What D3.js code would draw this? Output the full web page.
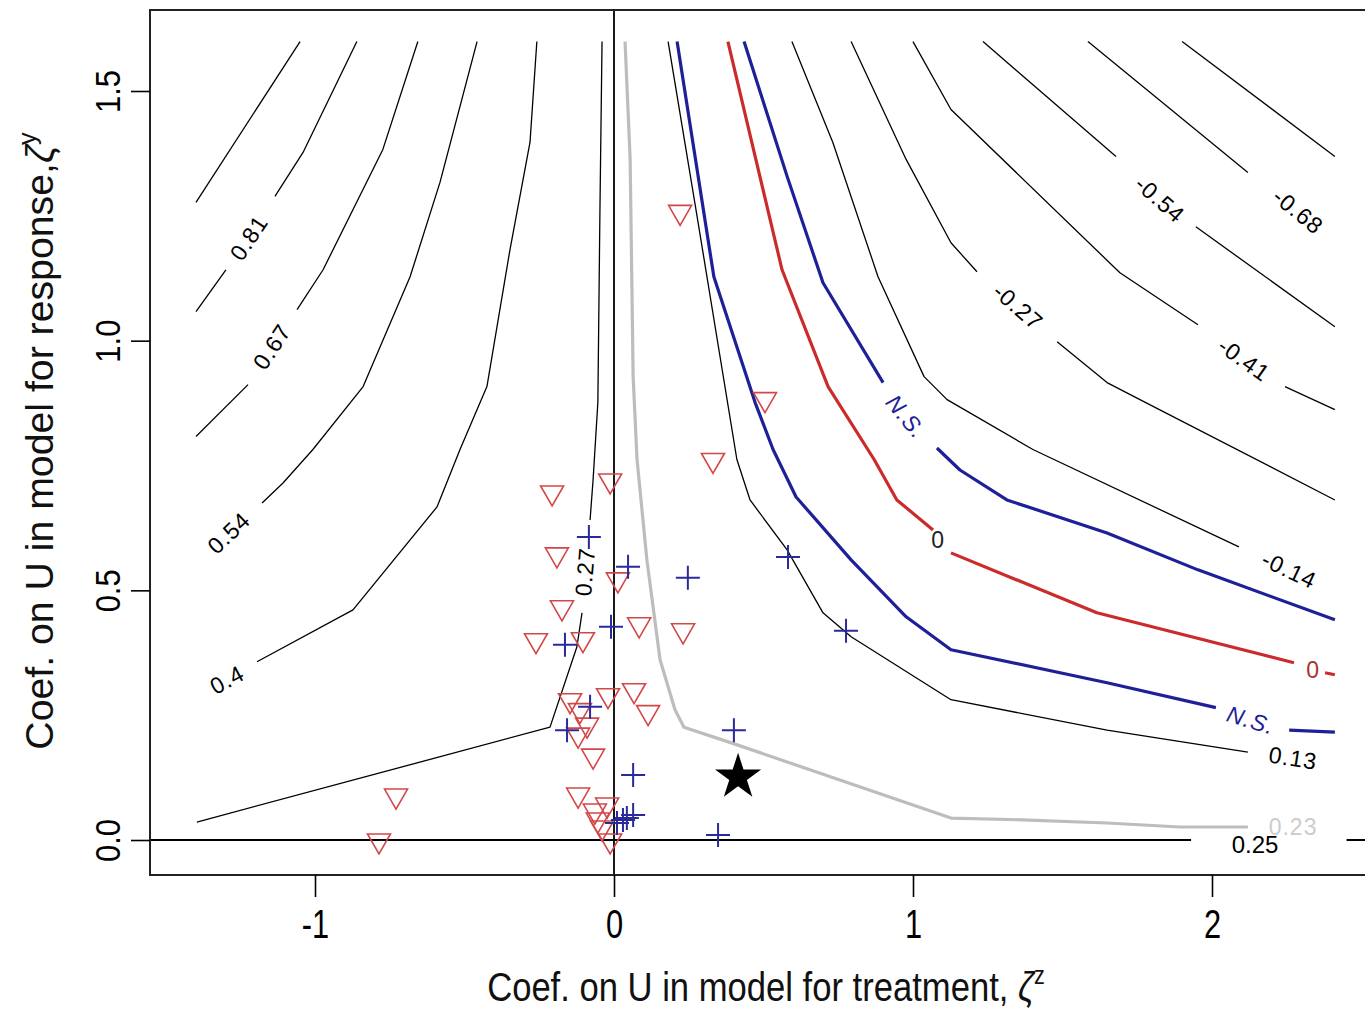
<!DOCTYPE html>
<html>
<head>
<meta charset="utf-8">
<script src="https://cdnjs.cloudflare.com/ajax/libs/d3/7.8.5/d3.min.js"></script>
<style>
  body { margin: 0; background: #fff; }
  svg { display: block; font-family: "Liberation Sans", Arial, sans-serif; }
</style>
</head>
<body>
<div class="contourdiv"></div>
<script>

// ---- data -------------------------------------------------------------
var xTicks = [-1, 0, 1, 2];
var yTicks = [0, 0.5, 1.0, 1.5];

// black contours: pieces between labels, label i sits after piece i
var blackContours = [
  {label: "", pieces: [[[-1.050, 1.599], [-1.398, 1.277]]], labelAt: []},
  {label: "0.81", pieces: [[[-0.860, 1.599], [-1.040, 1.377], [-1.134, 1.289]],
                           [[-1.298, 1.142], [-1.398, 1.058]]], labelAt: [[-1.221, 1.206]]},
  {label: "0.67", pieces: [[[-0.656, 1.599], [-0.773, 1.383], [-0.973, 1.142], [-1.060, 1.062]],
                           [[-1.224, 0.912], [-1.398, 0.808]]], labelAt: [[-1.144, 0.988]]},
  {label: "0.54", pieces: [[[-0.458, 1.599], [-0.582, 1.317], [-0.682, 1.128], [-0.839, 0.908],
                            [-1.007, 0.782], [-1.107, 0.715], [-1.177, 0.675]]], labelAt: [[-1.288, 0.615]]},
  {label: "0.4", pieces: [[[-0.258, 1.599], [-0.281, 1.397], [-0.348, 1.182], [-0.425, 0.908],
                           [-0.515, 0.782], [-0.592, 0.667], [-0.873, 0.461], [-1.194, 0.357]]], labelAt: [[-1.294, 0.321]]},
  {label: "0.27", pieces: [[[-0.040, 1.599], [-0.047, 1.263], [-0.054, 0.876], [-0.070, 0.721], [-0.080, 0.641]],
                           [[-0.107, 0.455], [-0.124, 0.387], [-0.214, 0.226], [-1.395, 0.036]]], labelAt: [[-0.097, 0.537]]},
  {label: "0.13", pieces: [[[0.181, 1.599], [0.274, 1.263], [0.411, 0.762], [0.455, 0.681], [0.579, 0.581],
                            [0.699, 0.455], [0.793, 0.407], [1.127, 0.281], [1.649, 0.220], [2.120, 0.176]]], labelAt: [[2.271, 0.164]]},
  {label: "-0.14", pieces: [[[0.595, 1.599], [0.732, 1.397], [0.883, 1.128], [1.037, 0.928], [1.114, 0.882],
                             [1.401, 0.782], [2.090, 0.587]]], labelAt: [[2.258, 0.541]]},
  {label: "-0.27", pieces: [[[0.793, 1.599], [0.977, 1.363], [1.127, 1.196], [1.214, 1.138]],
                            [[1.482, 0.998], [1.649, 0.916], [1.759, 0.882], [2.411, 0.681]]], labelAt: [[1.351, 1.068]]},
  {label: "-0.41", pieces: [[[1.000, 1.599], [1.127, 1.463], [1.692, 1.136], [1.953, 1.032]],
                            [[2.244, 0.908], [2.411, 0.862]]], labelAt: [[2.107, 0.962]]},
  {label: "-0.54", pieces: [[[1.234, 1.599], [1.679, 1.369]],
                            [[1.946, 1.228], [2.411, 1.028]]], labelAt: [[1.826, 1.283]]},
  {label: "-0.68", pieces: [[[1.585, 1.599], [2.120, 1.337]]], labelAt: [[2.288, 1.259]]},
  {label: "", pieces: [[[1.900, 1.599], [2.411, 1.369]]], labelAt: []}
];

var grayContour = {label: "0.23", pieces: [[[0.037, 1.599], [0.054, 1.363], [0.064, 0.928], [0.077, 0.762],
  [0.110, 0.561], [0.154, 0.361], [0.204, 0.261], [0.234, 0.226], [0.395, 0.194], [1.127, 0.044],
  [1.388, 0.040], [1.649, 0.034], [1.893, 0.026], [2.120, 0.026]]], labelAt: [[2.271, 0.026]]};

var redContour = {label: "0", pieces: [
  [[0.381, 1.599], [0.562, 1.142], [0.716, 0.908], [0.870, 0.762], [0.946, 0.681], [1.067, 0.621]],
  [[1.127, 0.575], [1.615, 0.455], [2.274, 0.355]],
  [[2.378, 0.335], [2.411, 0.331]]], labelAt: [[1.084, 0.601], [2.338, 0.341]]};

var blueContours = [
  {label: "N.S.", pieces: [[[0.211, 1.599], [0.334, 1.128], [0.472, 0.876], [0.532, 0.782], [0.609, 0.687],
                            [0.793, 0.561], [0.977, 0.447], [1.127, 0.381], [1.649, 0.315], [2.013, 0.265]],
                           [[2.258, 0.220], [2.411, 0.216]]], labelAt: [[2.130, 0.240]]},
  {label: "N.S.", pieces: [[[0.435, 1.599], [0.579, 1.329], [0.699, 1.116], [0.900, 0.916]],
                           [[1.080, 0.785], [1.157, 0.741], [1.314, 0.681], [1.649, 0.615], [1.953, 0.541], [2.411, 0.441]]],
   labelAt: [[0.977, 0.848]]}
];

// reference line along zeta^y = 0 (labelled 0.25) and zeta^z = 0
var zeroLine = [[[-1.7, 0], [1.93, 0]], [[2.45, 0], [2.7, 0]]];
var zeroLabel = {label: "0.25", at: [2.144, -0.010]};
var vLine = [[0, -0.1], [0, 1.7]];

var triangles = [
  [0.221, 1.253], [0.505, 0.878], [0.331, 0.756], [-0.207, 0.691], [-0.013, 0.715],
  [-0.191, 0.567], [-0.174, 0.461], [-0.261, 0.395], [-0.104, 0.397], [0.013, 0.517],
  [0.084, 0.427], [0.231, 0.415], [-0.020, 0.285], [0.067, 0.295], [0.114, 0.251],
  [-0.147, 0.275], [-0.114, 0.255], [-0.090, 0.226], [-0.120, 0.206], [-0.070, 0.164],
  [-0.120, 0.086], [-0.729, 0.084], [-0.786, -0.006], [-0.064, 0.054], [-0.023, 0.066],
  [-0.054, 0.036], [-0.040, 0.020], [-0.013, -0.006]
];

var pluses = [
  [-0.084, 0.607], [0.047, 0.547], [0.247, 0.525], [-0.010, 0.427], [-0.164, 0.391],
  [-0.080, 0.267], [-0.157, 0.220], [0.064, 0.130], [0.401, 0.220], [0.582, 0.567],
  [0.776, 0.419], [0.348, 0.010], [0.064, 0.050], [0.030, 0.040], [0.010, 0.034], [0.043, 0.044]
];

var starPoint = [0.415, 0.126];

// ---- layout -----------------------------------------------------------
var width = 1365, height = 1011;
var plot = {left: 150, top: 10, right: 1400, bottom: 875};

var x = d3.scaleLinear().domain([-1, 2]).range([315, 1212]);
var y = d3.scaleLinear().domain([0, 1.5]).range([840, 91]);

var svg = d3.select(".contourdiv")
    .append("svg")
    .attr("width", width)
    .attr("height", height);

svg.append("defs").append("clipPath")
    .attr("id", "plotclip")
  .append("rect")
    .attr("x", plot.left)
    .attr("y", plot.top)
    .attr("width", plot.right - plot.left)
    .attr("height", plot.bottom - plot.top);

var line = d3.line()
    .x(function(d) { return x(d[0]); })
    .y(function(d) { return y(d[1]); });

var g = svg.append("g").attr("clip-path", "url(#plotclip)");

// angle of label i along its contour, in screen space, kept readable
function labelAngle(pieces, i) {
  var a = pieces[i][pieces[i].length - 1], b;
  if (i + 1 < pieces.length) {
    b = pieces[i + 1][0];
  } else {
    b = a;
    a = pieces[i][pieces[i].length - 2];
  }
  var ang = Math.atan2(y(b[1]) - y(a[1]), x(b[0]) - x(a[0])) * 180 / Math.PI;
  if (ang > 90) ang -= 180;
  if (ang < -90) ang += 180;
  return ang;
}

function drawContour(c, stroke, sw, labelFill, italic, upright) {
  c.pieces.forEach(function(p) {
    g.append("path")
        .attr("d", line(p))
        .attr("fill", "none")
        .attr("stroke", stroke)
        .attr("stroke-width", sw)
        .attr("stroke-linejoin", "round");
  });
  c.labelAt.forEach(function(pt, i) {
    var rot = upright ? 0 : labelAngle(c.pieces, i);
    g.append("text")
        .attr("transform", "translate(" + x(pt[0]) + "," + y(pt[1]) + ") rotate(" + rot + ")")
        .attr("text-anchor", "middle")
        .attr("dy", "0.35em")
        .attr("font-size", 23)
        .attr("letter-spacing", 1)
        .attr("font-style", italic ? "italic" : null)
        .attr("fill", Array.isArray(labelFill) ? labelFill[i] : labelFill)
        .text(c.label);
  });
}

// reference lines
zeroLine.forEach(function(p) {
  g.append("path").attr("d", line(p)).attr("stroke", "#000").attr("stroke-width", 1.8).attr("fill", "none");
});
g.append("path").attr("d", line(vLine)).attr("stroke", "#000").attr("stroke-width", 1.8).attr("fill", "none");
g.append("text")
    .attr("x", x(zeroLabel.at[0]))
    .attr("y", y(zeroLabel.at[1]))
    .attr("text-anchor", "middle")
    .attr("dy", "0.35em")
    .attr("font-size", 24)
    .attr("fill", "#000")
    .text(zeroLabel.label);

blackContours.forEach(function(c) { drawContour(c, "#000", 1.3, "#000", false, false); });
drawContour(grayContour, "#bdbdbd", 3.2, "#cccccc", false, false);
blueContours.forEach(function(c) { drawContour(c, "#1f1f98", 3.2, "#1f1f98", true, false); });
drawContour(redContour, "#cc2b2b", 3.2, ["#222", "#a83232"], false, true);

// points
g.selectAll(".tri")
    .data(triangles)
  .enter().append("path")
    .classed("tri", true)
    .attr("transform", function(d) { return "translate(" + x(d[0]) + "," + y(d[1]) + ")"; })
    .attr("d", "M-11.5,-9L11.5,-9L0,11Z")
    .attr("fill", "none")
    .attr("stroke", "#d24848")
    .attr("stroke-width", 1.6);

g.selectAll(".plus")
    .data(pluses)
  .enter().append("path")
    .classed("plus", true)
    .attr("transform", function(d) { return "translate(" + x(d[0]) + "," + y(d[1]) + ")"; })
    .attr("d", "M-12,0H12M0,-12V12")
    .attr("fill", "none")
    .attr("stroke", "#2a2a9c")
    .attr("stroke-width", 2);

g.append("path")
    .attr("transform", "translate(" + x(starPoint[0]) + "," + y(starPoint[1]) + ")")
    .attr("d", d3.symbol(d3.symbolStar, 660)())
    .attr("fill", "#000");

// frame
svg.append("rect")
    .attr("x", plot.left)
    .attr("y", plot.top)
    .attr("width", plot.right - plot.left)
    .attr("height", plot.bottom - plot.top)
    .attr("fill", "none")
    .attr("stroke", "#222")
    .attr("stroke-width", 2);

// axes
var xAxis = svg.append("g")
    .attr("transform", "translate(0," + plot.bottom + ")")
    .call(d3.axisBottom(x).tickValues(xTicks).tickSize(22).tickFormat(function(d) { return String(d); }));
xAxis.select(".domain").remove();
xAxis.selectAll("line").attr("stroke", "#000").attr("stroke-width", 1.6);
xAxis.selectAll("text")
    .attr("y", null)
    .attr("dy", null)
    .attr("fill", "#000")
    .attr("font-size", 40)
    .attr("transform", "translate(0,63) scale(0.77,1)");

var yAxis = svg.append("g")
    .attr("transform", "translate(" + plot.left + ",0)")
    .call(d3.axisLeft(y).tickValues(yTicks).tickSize(19).tickFormat(d3.format(".1f")));
yAxis.select(".domain").remove();
yAxis.selectAll("line").attr("stroke", "#000").attr("stroke-width", 1.6);
yAxis.selectAll("text")
    .attr("x", null)
    .attr("dy", null)
    .attr("fill", "#000")
    .attr("font-size", 36)
    .attr("text-anchor", "middle")
    .attr("transform", "translate(-30,0) rotate(-90) scale(0.86,1)");

// axis titles
var xTitle = svg.append("text")
    .attr("text-anchor", "middle")
    .attr("font-size", 40)
    .attr("fill", "#111");
xTitle.append("tspan").text("Coef. on U in model for treatment, ");
xTitle.append("tspan").attr("font-style", "italic").text("ζ");
xTitle.append("tspan").attr("font-size", 25).attr("dy", -17).text("z");
var xk = 558 / xTitle.node().getBBox().width;
xTitle.attr("transform", "translate(766,1001) scale(" + xk + ",1)");

var yTitle = svg.append("text")
    .attr("text-anchor", "middle")
    .attr("font-size", 39)
    .attr("fill", "#111");
yTitle.append("tspan").text("Coef. on U in model for response,");
yTitle.append("tspan").attr("font-style", "italic").text("ζ");
yTitle.append("tspan").attr("font-size", 25).attr("dy", -17).text("y");
var yk = 618 / yTitle.node().getBBox().width;
yTitle.attr("transform", "translate(53,441) rotate(-90) scale(" + yk + ",1)");

</script>
</body>
</html>
